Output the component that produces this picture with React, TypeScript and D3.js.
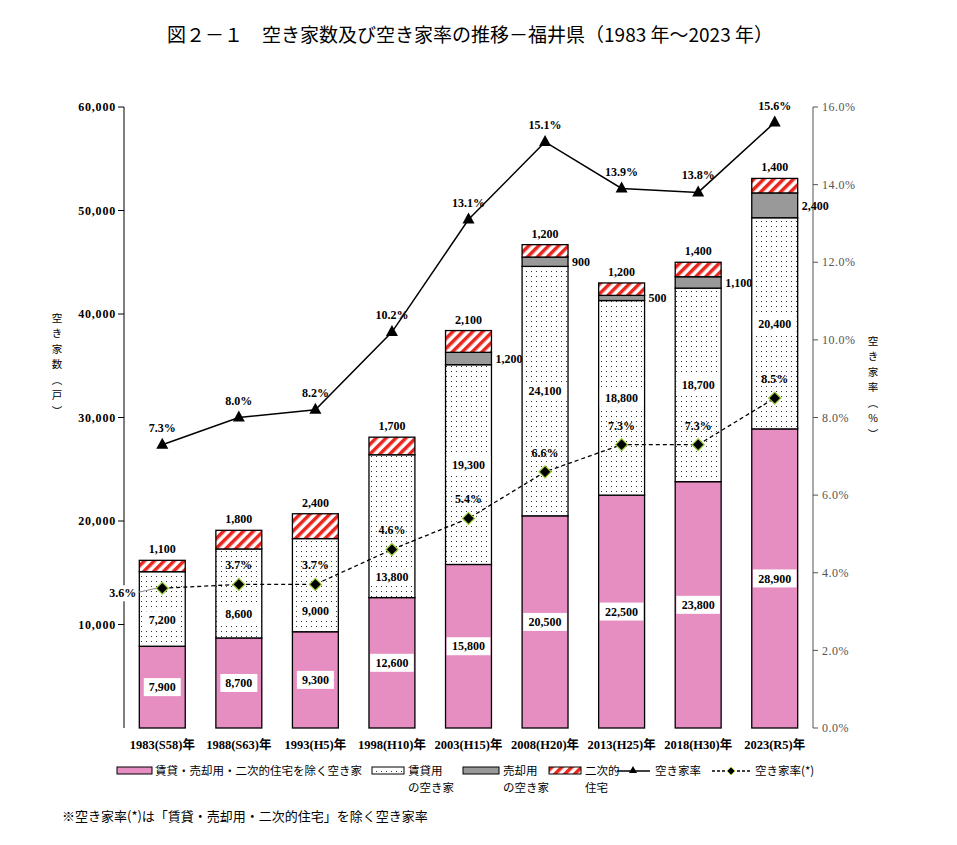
import React from 'react'
import { scaleBand, scaleLinear, line, format } from 'd3'

// 年次
const years = ['1983(S58)年', '1988(S63)年', '1993(H5)年', '1998(H10)年', '2003(H15)年', '2008(H20)年', '2013(H25)年', '2018(H30)年', '2023(R5)年']
// 空き家数（戸）
const otherVacant = [7900, 8700, 9300, 12600, 15800, 20500, 22500, 23800, 28900]
const rentalVacant = [7200, 8600, 9000, 13800, 19300, 24100, 18800, 18700, 20400]
const saleVacant = [0, 0, 0, 0, 1200, 900, 500, 1100, 2400]
const secondHome = [1100, 1800, 2400, 1700, 2100, 1200, 1200, 1400, 1400]
// 空き家率（%）
const vacancyRate = [7.3, 8.0, 8.2, 10.2, 13.1, 15.1, 13.9, 13.8, 15.6]
const vacancyRateExcl = [3.6, 3.7, 3.7, 4.6, 5.4, 6.6, 7.3, 7.3, 8.5]
const leftTicks = [10000, 20000, 30000, 40000, 50000, 60000]
const rightTicks = [0, 2, 4, 6, 8, 10, 12, 14, 16]

const PINK = '#e68dc2'
const GRAY = '#999999'
const RED = '#e8261e'
const serif = '"Liberation Serif", "Noto Sans CJK JP", serif'
const gothic = '"Noto Sans CJK JP", sans-serif'

const fmt = format(',')

// 縦書き（1つのtextに1文字ずつtspanを積む）
const VText = ({ x, y, chars, step = 15.5 }: { x: number; y: number; chars: string[]; step?: number }) => (
  <text fontFamily={gothic} fontSize={10.5} textAnchor="middle">
    {chars.map((c, i) => (
      <tspan key={i} x={x} y={y + i * step} dy="0.35em">{c}</tspan>
    ))}
  </text>
)

const App = () => {
  const x = scaleBand().domain(years).range([124, 813]).paddingInner(0.4).paddingOuter(0.2)
  const y = scaleLinear().domain([0, 60000]).range([728, 107])
  const yR = scaleLinear().domain([0, 16]).range([728, 107])
  const bw = x.bandwidth()
  const cx = (i: number) => (x(years[i]) as number) + bw / 2

  const rateLine = line<number>().x((_, i) => cx(i)).y(d => yR(d))

  const labelBox = (tx: number, ty: number, text: string, key: string) => {
    const w = text.length * 6.6 + 4
    return (
      <g key={key}>
        <rect x={tx - w / 2} y={ty - 9} width={w} height={18} fill="#fff" />
        <text x={tx} y={ty} dy="0.35em" textAnchor="middle" fontWeight="bold">{text}</text>
      </g>
    )
  }

  return (
    <svg width={957} height={845} style={{ position: 'absolute', left: 0, top: 0, background: '#fff' }}
      fontFamily={serif} fontSize={12}>
      <defs>
        <pattern id="dots" width="5" height="5" patternUnits="userSpaceOnUse">
          <rect width="5" height="5" fill="#fff" />
          <rect x="1" y="1" width="1" height="1" fill="#333" />
        </pattern>
        <pattern id="hatch" width="7" height="7" patternUnits="userSpaceOnUse" patternTransform="rotate(45)">
          <rect width="7" height="7" fill="#fff" />
          <rect width="3.5" height="7" fill={RED} />
        </pattern>
      </defs>

      <text x={470} y={42} textAnchor="middle" fontFamily={gothic} fontSize={19}>
        図２－１　空き家数及び空き家率の推移－福井県（1983 年～2023 年）
      </text>

      {/* 左軸 */}
      <line x1={124} x2={124} y1={107} y2={728} stroke="#000" />
      {leftTicks.map(t => (
        <g key={t}>
          <line x1={118} x2={124} y1={y(t)} y2={y(t)} stroke="#000" />
          <text x={116} y={y(t)} dy="0.35em" textAnchor="end" fontWeight="bold" letterSpacing={0.8}>{fmt(t)}</text>
        </g>
      ))}
      <VText x={57} y={318} chars={['空', 'き', '家', '数', '︵', '戸', '︶']} />

      {/* 右軸 */}
      <line x1={813} x2={813} y1={107} y2={728} stroke="#555" />
      {rightTicks.map(t => (
        <g key={t}>
          <line x1={813} x2={818} y1={yR(t)} y2={yR(t)} stroke="#555" />
          <text x={822} y={yR(t)} dy="0.35em" fill="#555" letterSpacing={0.5}>{t.toFixed(1)}%</text>
        </g>
      ))}
      <VText x={873} y={341} chars={['空', 'き', '家', '率', '︵', '%', '︶']} />

      {/* 棒 */}
      {years.map((yr, i) => {
        const x0 = x(yr) as number
        const b0 = otherVacant[i]
        const b1 = b0 + rentalVacant[i]
        const b2 = b1 + saleVacant[i]
        const b3 = b2 + secondHome[i]
        const seg = (lo: number, hi: number, fill: string, k: string) =>
          hi > lo ? <rect key={k} x={x0} y={y(hi)} width={bw} height={y(lo) - y(hi)} fill={fill} stroke="#000" strokeWidth={1.3} /> : null
        return (
          <g key={yr}>
            {seg(0, b0, PINK, 'a')}
            {seg(b0, b1, 'url(#dots)', 'b')}
            {seg(b1, b2, GRAY, 'c')}
            {seg(b2, b3, 'url(#hatch)', 'd')}
          </g>
        )
      })}

      {/* 棒ラベル */}
      {years.map((yr, i) => {
        const c = cx(i)
        const b0 = otherVacant[i]
        const b1 = b0 + rentalVacant[i]
        const b2 = b1 + saleVacant[i]
        const b3 = b2 + secondHome[i]
        const pinkY = (y(0) + y(b0)) / 2
        let rentY = (y(b0) + y(b1)) / 2
        const ptY = yR(vacancyRateExcl[i])
        if (Math.abs(rentY - ptY) < 45) rentY = (ptY + y(b0)) / 2 + 3
        return (
          <g key={yr}>
            {labelBox(c, pinkY, fmt(otherVacant[i]), 'p')}
            {labelBox(c, rentY, fmt(rentalVacant[i]), 'r')}
            {saleVacant[i] > 0 && (
              <text x={c + bw / 2 + 4} y={(y(b1) + y(b2)) / 2} dy="0.35em" fontWeight="bold">{fmt(saleVacant[i])}</text>
            )}
            <text x={c} y={y(b3) - 7} textAnchor="middle" fontWeight="bold">{fmt(secondHome[i])}</text>
          </g>
        )
      })}

      {/* 空き家率 */}
      <path d={rateLine(vacancyRate) as string} fill="none" stroke="#000" strokeWidth={1.5} />
      {vacancyRate.map((v, i) => (
        <g key={i}>
          <path d={`M${cx(i)},${yR(v) - 7}L${cx(i) + 6},${yR(v) + 4}L${cx(i) - 6},${yR(v) + 4}Z`} fill="#000" />
          <text x={cx(i)} y={yR(v) - 13} textAnchor="middle" fontWeight="bold">{v.toFixed(1)}%</text>
        </g>
      ))}

      {/* 空き家率(*) */}
      <path d={rateLine(vacancyRateExcl) as string} fill="none" stroke="#000" strokeWidth={1.3} strokeDasharray="4,3" />
      {vacancyRateExcl.map((v, i) => {
        const px = cx(i)
        const py = yR(v)
        return (
          <g key={i}>
            <path d={`M${px},${py - 6}L${px + 6},${py}L${px},${py + 6}L${px - 6},${py}Z`} fill="#000" stroke="#9c3" strokeWidth={1.2} />
            {i === 0 ? (
              <g>
                <line x1={px - 24} y1={py + 4} x2={px - 6} y2={py} stroke="#888" />
                <rect x={px - 52} y={py - 3} width={27} height={16} fill="#fff" />
                <text x={px - 26} y={py + 5} dy="0.35em" textAnchor="end" fontWeight="bold">{v.toFixed(1)}%</text>
              </g>
            ) : (
              <text x={px} y={py - 15} textAnchor="middle" fontWeight="bold">{v.toFixed(1)}%</text>
            )}
          </g>
        )
      })}

      {/* X軸ラベル */}
      {years.map((yr, i) => (
        <text key={yr} x={cx(i)} y={745} dy="0.35em" textAnchor="middle" fontWeight="bold" fontSize={12.5}>{yr}</text>
      ))}

      {/* 凡例 */}
      <g fontFamily={gothic} fontSize={11.5}>
        <rect x={117} y={767} width={35} height={7} fill={PINK} stroke="#000" />
        <text x={155} y={771} dy="0.35em">賃貸・売却用・二次的住宅を除く空き家</text>
        <rect x={372} y={767} width={32} height={7} fill="url(#dots)" stroke="#000" />
        <text x={408} y={771} dy="0.35em">賃貸用</text>
        <text x={408} y={788} dy="0.35em">の空き家</text>
        <rect x={463} y={767} width={36} height={7} fill={GRAY} stroke="#000" />
        <text x={503} y={771} dy="0.35em">売却用</text>
        <text x={503} y={788} dy="0.35em">の空き家</text>
        <rect x={549} y={767} width={32} height={7} fill="url(#hatch)" stroke="#000" />
        <text x={585} y={771} dy="0.35em">二次的</text>
        <text x={585} y={788} dy="0.35em">住宅</text>
        <line x1={617} x2={650} y1={771} y2={771} stroke="#000" strokeWidth={1.5} />
        <path d="M633,766L637,773L629,773Z" fill="#000" />
        <text x={655} y={771} dy="0.35em">空き家率</text>
        <line x1={712} x2={750} y1={771} y2={771} stroke="#000" strokeWidth={1.3} strokeDasharray="3,2" />
        <path d="M731,767L735,771L731,775L727,771Z" fill="#000" stroke="#9c3" />
        <text x={755} y={771} dy="0.35em">空き家率(*)</text>
      </g>

      <text x={62} y={816} dy="0.35em" fontFamily={gothic} fontSize={13}>
        ※空き家率(*)は「賃貸・売却用・二次的住宅」を除く空き家率
      </text>
    </svg>
  )
}

export default App
